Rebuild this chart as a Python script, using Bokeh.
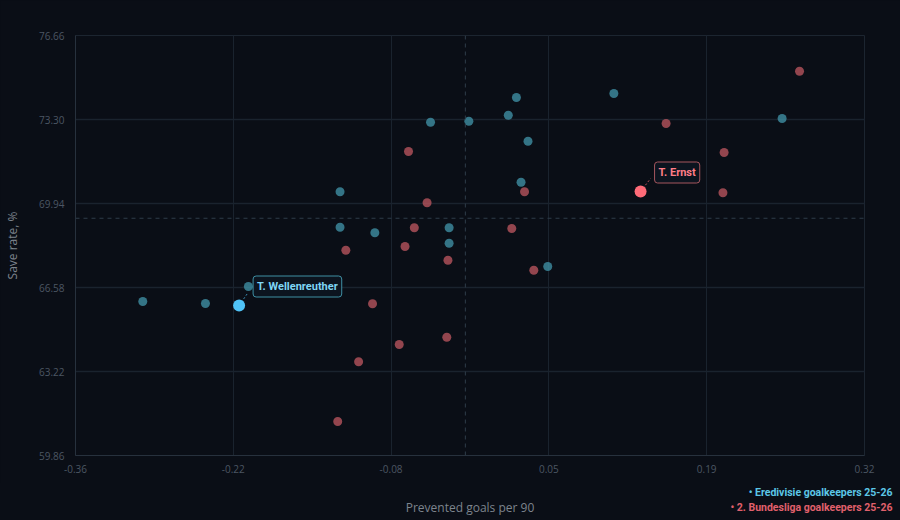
from bokeh.plotting import figure
from bokeh.layouts import column
from bokeh.models import Range1d, FixedTicker, Span, Label, ColumnDataSource
from bokeh.core.properties import value
from bokeh.embed import file_html
from bokeh.resources import INLINE

# ---- data ----
ere_x = [-0.298, -0.244, -0.207, -0.128, -0.128, -0.098, -0.034, -0.034, -0.050, -0.017,
         0.024, 0.017, 0.034, 0.028, 0.051, 0.108, 0.253]
ere_y = [66.02, 65.94, 66.62, 70.41, 68.99, 68.77, 68.97, 68.35, 73.19, 73.23,
         74.18, 73.47, 72.43, 70.79, 67.42, 74.34, 73.34]
bun_x = [-0.069, -0.053, -0.064, -0.123, -0.072, -0.035, -0.100, -0.036, -0.077, -0.112,
         -0.130, 0.031, 0.020, 0.039, 0.153, 0.203, 0.202, 0.268]
bun_y = [72.02, 69.97, 68.97, 68.07, 68.22, 67.67, 65.93, 64.59, 64.30, 63.61,
         61.22, 70.41, 68.94, 67.27, 73.14, 71.98, 70.37, 75.23]
hl_ere = {"name": "T. Wellenreuther", "x": -0.215, "y": 65.86}
hl_bun = {"name": "T. Ernst", "x": 0.131, "y": 70.42}
mean_x = -0.020
mean_y = 69.35
x_ticks = [-0.356, -0.220, -0.084, 0.052, 0.188, 0.324]
x_tick_labels = ["-0.36", "-0.22", "-0.08", "0.05", "0.19", "0.32"]
y_ticks = [59.86, 63.22, 66.58, 69.94, 73.30, 76.66]
y_tick_labels = ["59.86", "63.22", "66.58", "69.94", "73.30", "76.66"]
x_title = "Prevented goals per 90"
y_title = "Save rate, %"
series_names = ["Eredivisie goalkeepers 25-26", "2. Bundesliga goalkeepers 25-26"]

BG = "#0a0e16"
BLUE = "#3f8fa3"
RED = "#b5545d"
BLUE_HL = "#4fc3f7"
RED_HL = "#ff6b78"

p = figure(width=900, height=482, output_backend="svg", toolbar_location=None,
           x_range=Range1d(x_ticks[0], x_ticks[-1]), y_range=Range1d(y_ticks[0], y_ticks[-1]),
           min_border_left=75, min_border_right=36, min_border_top=35, min_border_bottom=27,
           frame_align=False)
p.background_fill_color = BG
p.border_fill_color = BG
p.outline_line_color = "#1c2530"

for ax in (p.xaxis, p.yaxis):
    ax.major_tick_line_color = None
    ax.minor_tick_line_color = None
    ax.axis_line_color = "#27313d"
    ax.major_label_text_color = "#4c5663"
    ax.major_label_text_font = "Open Sans"
    ax.major_label_text_font_size = "10px"
    ax.axis_label_text_color = "#7d848d"
    ax.axis_label_text_font = "Open Sans"
    ax.axis_label_text_font_size = "12px"
    ax.axis_label_text_font_style = "normal"

p.xaxis.ticker = FixedTicker(ticks=x_ticks)
p.xaxis.major_label_overrides = dict(zip(x_ticks, x_tick_labels))
p.yaxis.ticker = FixedTicker(ticks=y_ticks)
p.yaxis.major_label_overrides = dict(zip(y_ticks, y_tick_labels))
p.yaxis.axis_label = y_title
p.xaxis.major_label_standoff = 3
p.yaxis.major_label_standoff = 5
p.yaxis.axis_label_standoff = 15

p.xgrid.grid_line_color = "#1a232e"
p.ygrid.grid_line_color = "#1a232e"
p.xgrid.grid_line_width = 1
p.ygrid.grid_line_width = 1.5

p.add_layout(Span(location=mean_x, dimension="height", line_color="#2f3d4a",
                  line_dash="4 4", line_width=1))
p.add_layout(Span(location=mean_y, dimension="width", line_color="#2f3d4a",
                  line_dash="4 4", line_width=1))

p.scatter(ere_x, ere_y, size=9, fill_color=BLUE, fill_alpha=0.8, line_color=None)
p.scatter(bun_x, bun_y, size=9, fill_color=RED, fill_alpha=0.8, line_color=None)

# connectors (data units derived from the highlighted points)
px_x = (x_ticks[-1] - x_ticks[0]) / 789.0
px_y = (y_ticks[-1] - y_ticks[0]) / 420.0
conn = ColumnDataSource(dict(
    x0=[hl_ere["x"], hl_bun["x"]], y0=[hl_ere["y"], hl_bun["y"]],
    x1=[hl_ere["x"] + 9 * px_x, hl_bun["x"] + 10 * px_x],
    y1=[hl_ere["y"] + 13 * px_y, hl_bun["y"] + 13 * px_y],
    c=[BLUE_HL, RED_HL]))
p.segment("x0", "y0", "x1", "y1", source=conn, line_color="c", line_dash="2 2",
          line_width=1, line_alpha=0.7)

p.scatter([hl_ere["x"]], [hl_ere["y"]], size=12, fill_color=BLUE_HL, line_color=None)
p.scatter([hl_bun["x"]], [hl_bun["y"]], size=12, fill_color=RED_HL, line_color=None)

for hl, col, border in ((hl_ere, "#7fd6f5", "#3f8fa3"), (hl_bun, "#ff7e88", "#a5565e")):
    p.add_layout(Label(x=hl["x"], y=hl["y"], x_offset=14, y_offset=19,
                       text=hl["name"], text_color=col, text_font="Roboto",
                       text_font_style="bold", text_font_size="11px",
                       text_baseline="middle", text_align="left",
                       background_fill_color="#0d1520", background_fill_alpha=0.95,
                       border_line_color=border, border_line_width=1,
                       border_radius=3, padding=4))

# bottom strip: x-axis title and legend (pixel-like coordinates)
s = figure(width=900, height=38, output_backend="svg", toolbar_location=None,
           x_range=Range1d(0, 900), y_range=Range1d(0, 38),
           x_axis_location=None, y_axis_location=None, min_border=0,
           frame_align=False)
s.background_fill_color = BG
s.border_fill_color = BG
s.outline_line_color = None
s.grid.visible = False
s.text(x=[469.5], y=[13], text=[x_title], text_color="#7d848d",
       text_font=value("Open Sans"), text_font_size="12px",
       text_align="center", text_baseline="middle")
s.text(x=[892, 892], y=[28, 13], text=["• " + n for n in series_names],
       text_color=["#5cc6e6", "#e0606c"], text_font=value("Roboto"),
       text_font_style="bold", text_font_size="10.5px",
       text_align="right", text_baseline="middle")

layout = column(p, s, spacing=0, styles={"background-color": BG})
open("out.html", "w").write(file_html(layout, INLINE))
